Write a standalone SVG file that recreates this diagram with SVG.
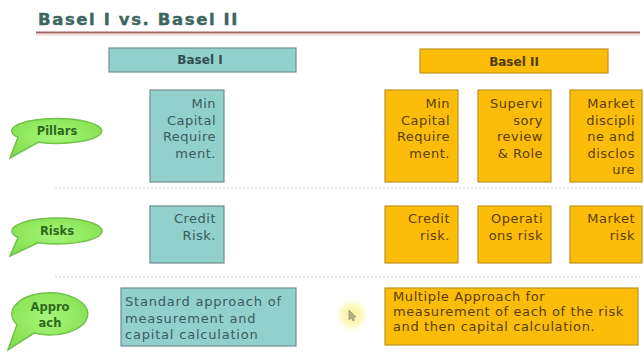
<svg xmlns="http://www.w3.org/2000/svg" width="644" height="353" viewBox="0 0 644 353">
<defs>
<radialGradient id="glow" cx="50%" cy="50%" r="50%">
<stop offset="0" stop-color="#f6f27a" stop-opacity="0.9"/>
<stop offset="0.6" stop-color="#f8f5a0" stop-opacity="0.6"/>
<stop offset="1" stop-color="#ffffff" stop-opacity="0"/>
</radialGradient>
<radialGradient id="bub" cx="50%" cy="45%" r="60%">
<stop offset="0" stop-color="#a6f57a"/>
<stop offset="1" stop-color="#84e04e"/>
</radialGradient>
</defs>
<style>
.title{font-family:"DejaVu Sans",sans-serif;font-weight:bold;font-size:16.5px;fill:#3e6660;stroke:#3e6660;stroke-width:0.4;letter-spacing:1.6px}
.hdr{font-family:"DejaVu Sans",sans-serif;font-weight:bold;font-size:12px;text-anchor:middle}
.teal{fill:#92d0cc;stroke:#6f8f8c;stroke-width:1.2}
.orange{fill:#fbbd0a;stroke:#c0931c;stroke-width:1.2}
.tt{font-family:"DejaVu Sans",sans-serif;font-size:13px;fill:#3a5c5c;letter-spacing:0.5px}
.ot{font-family:"DejaVu Sans",sans-serif;font-size:13px;fill:#5c3d00;letter-spacing:0.5px}
.wide{letter-spacing:0.8px}
.r{text-anchor:end}
.bub{fill:url(#bub);stroke:#74c04c;stroke-width:1.5}
.bt{font-family:"DejaVu Sans",sans-serif;font-weight:bold;font-size:11.5px;fill:#2f6a1c;text-anchor:middle}
.sep{stroke:#d2d2d2;stroke-width:1.2;stroke-dasharray:2 2}
</style>
<rect width="644" height="353" fill="#ffffff"/>
<g id="title">
<text class="title" x="38" y="25">Basel I vs. Basel II</text>
<line x1="36" y1="32.5" x2="640" y2="32.5" stroke="#a46464" stroke-width="2"/>
<line x1="36" y1="35" x2="640" y2="35" stroke="#f6e4e4" stroke-width="2"/>
</g>
<g id="connectors">
<line class="sep" x1="55" y1="188" x2="640" y2="188"/>
<line class="sep" x1="55" y1="277" x2="640" y2="277"/>
</g>
<g id="basel1-header">
<rect class="teal" x="109" y="48" width="187" height="24"/>
<text class="hdr" x="200" y="64" fill="#2d4f4c">Basel I</text>
</g>
<g id="basel2-header">
<rect class="orange" x="420" y="49" width="188" height="24"/>
<text class="hdr" x="514" y="66" fill="#4e3a00">Basel II</text>
</g>
<g id="pillars-label">
<path class="bub" d="M38,142.3 L10,158 L18,137.3 A45 12.5 0 1 1 38,142.3 Z"/>
<text class="bt" x="57" y="135">Pillars</text>
</g>
<g id="risks-label">
<path class="bub" d="M38,242.8 L10,256 L18,237.5 A45 13 0 1 1 38,242.8 Z"/>
<text class="bt" x="57" y="235">Risks</text>
</g>
<g id="approach-label">
<path class="bub" d="M34,333 L8,350 L17,324.5 A38 21 0 1 1 34,333 Z"/>
<text class="bt" x="50" y="311">Appro</text>
<text class="bt" x="50" y="327">ach</text>
</g>
<g id="b1-pillar">
<rect class="teal" x="150" y="90" width="74" height="92"/>
<text class="tt r"><tspan x="216" y="108">Min</tspan><tspan x="216" y="124.5">Capital</tspan><tspan x="216" y="141">Require</tspan><tspan x="216" y="157.5">ment.</tspan></text>
</g>
<g id="b2-pillar1">
<rect class="orange" x="385" y="90" width="73" height="92"/>
<text class="ot r"><tspan x="450" y="108">Min</tspan><tspan x="450" y="124.5">Capital</tspan><tspan x="450" y="141">Require</tspan><tspan x="450" y="157.5">ment.</tspan></text>
</g>
<g id="b2-pillar2">
<rect class="orange" x="478" y="90" width="73" height="92"/>
<text class="ot r"><tspan x="543" y="108">Supervi</tspan><tspan x="543" y="124.5">sory</tspan><tspan x="543" y="141">review</tspan><tspan x="543" y="157.5">&amp; Role</tspan></text>
</g>
<g id="b2-pillar3">
<rect class="orange" x="570" y="90" width="72" height="92"/>
<text class="ot r"><tspan x="635" y="108">Market</tspan><tspan x="635" y="124.5">discipli</tspan><tspan x="635" y="141">ne and</tspan><tspan x="635" y="157.5">disclos</tspan><tspan x="635" y="174">ure</tspan></text>
</g>
<g id="b1-risk">
<rect class="teal" x="150" y="206" width="74" height="57"/>
<text class="tt r"><tspan x="216" y="223">Credit</tspan><tspan x="216" y="240">Risk.</tspan></text>
</g>
<g id="b2-risk1">
<rect class="orange" x="385" y="206" width="73" height="57"/>
<text class="ot r"><tspan x="450" y="223">Credit</tspan><tspan x="450" y="240">risk.</tspan></text>
</g>
<g id="b2-risk2">
<rect class="orange" x="478" y="206" width="73" height="57"/>
<text class="ot r"><tspan x="543" y="223">Operati</tspan><tspan x="543" y="240">ons risk</tspan></text>
</g>
<g id="b2-risk3">
<rect class="orange" x="570" y="206" width="72" height="57"/>
<text class="ot r"><tspan x="635" y="223">Market</tspan><tspan x="635" y="240">risk</tspan></text>
</g>
<g id="b1-approach">
<rect class="teal" x="121" y="288" width="175" height="58"/>
<text class="tt wide"><tspan x="125" y="306">Standard approach of</tspan><tspan x="125" y="322.5">measurement and</tspan><tspan x="125" y="339">capital calculation</tspan></text>
</g>
<g id="cursor">
<circle cx="352" cy="315" r="18" fill="url(#glow)"/>
<path d="M349,310 L349,320 L351.5,318 L353,321 L354.5,320.3 L353,317.3 L356,317 Z" fill="#b0b08a" stroke="#8c8c6c" stroke-width="0.6"/>
</g>
<g id="b2-approach">
<rect class="orange" x="385" y="288" width="253" height="57"/>
<text class="ot" style="letter-spacing:0.6px"><tspan x="393" y="301">Multiple Approach for</tspan><tspan x="393" y="316">measurement of each of the risk</tspan><tspan x="393" y="331">and then capital calculation.</tspan></text>
</g>
</svg>
